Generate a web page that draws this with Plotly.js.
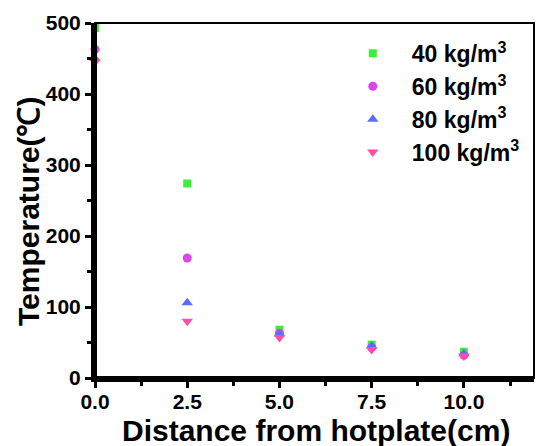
<!DOCTYPE html>
<html>
<head>
<meta charset="utf-8">
<script src="https://cdn.plot.ly/plotly-3.0.1.min.js"></script>
<style>html,body{margin:0;padding:0;background:#fff;}#chart{width:536px;height:446px;}</style>
</head>
<body>
<div id="chart"></div>
<script>
const distance = [0, 2.5, 5.0, 7.5, 10.0];
const temp40 = [493, 274, 68, 47, 37];
const temp60 = [463, 169, 63, 43, 32];
const temp80 = [450, 106, 62, 45, 34];
const temp100 = [445, 80, 57, 40, 31];
const seriesNames = ['40 kg/m<sup>3</sup>', '60 kg/m<sup>3</sup>', '80 kg/m<sup>3</sup>', '100 kg/m<sup>3</sup>'];
const xTicks = [0, 2.5, 5.0, 7.5, 10.0];
const xTickLabels = ['0.0', '2.5', '5.0', '7.5', '10.0'];
const yTicks = [0, 100, 200, 300, 400, 500];
const xTitle = 'Distance from hotplate(cm)';
const yTitle = 'Temperature(℃)';

const colors = ['#3ef03e', '#dd44f0', '#5a6dff', '#ff4f9e'];
const symbols = ['square', 'circle', 'triangle-up', 'triangle-down'];
const sizes = [8, 9, 10, 10];
const series = [temp40, temp60, temp80, temp100];

const traces = series.map((ys, i) => ({
  x: distance, y: ys, type: 'scatter', mode: 'markers', name: seriesNames[i],
  cliponaxis: false,
  marker: {color: colors[i], symbol: symbols[i], size: sizes[i], line: {width: 0}}
}));

const font = {family: 'Liberation Sans, Arial, sans-serif', color: '#000'};
const layout = {
  width: 536, height: 446,
  margin: {l: 95, r: 2, t: 23, b: 68},
  paper_bgcolor: '#fff', plot_bgcolor: '#fff',
  showlegend: true,
  legend: {x: 0.544, y: 0.975, xanchor: 'left', yanchor: 'top', bgcolor: 'rgba(0,0,0,0)',
    itemwidth: 68,
    font: Object.assign({}, font, {size: 23, weight: 'bold'}), tracegroupgap: 0},
  xaxis: {
    range: [0, 11.9], tickvals: xTicks, ticktext: xTickLabels,
    showgrid: false, zeroline: false, showline: true, linewidth: 4, linecolor: '#000',
    ticks: 'outside', ticklen: 6, tickwidth: 3, tickcolor: '#000',
    minor: {dtick: 1.25, ticks: 'outside', ticklen: 4, tickwidth: 3, tickcolor: '#000', showgrid: false},
    ticklabelstandoff: -4,
    tickfont: Object.assign({}, font, {size: 21, weight: 'bold'})
  },
  yaxis: {
    range: [0, 500], tickvals: yTicks,
    showgrid: false, zeroline: false, showline: true, linewidth: 4, linecolor: '#000',
    ticks: 'outside', ticklen: 6, tickwidth: 3, tickcolor: '#000',
    minor: {dtick: 50, ticks: 'outside', ticklen: 4, tickwidth: 3, tickcolor: '#000', showgrid: false},
    tickfont: Object.assign({}, font, {size: 21, weight: 'bold'})
  },
  annotations: [
    {text: xTitle, xref: 'paper', yref: 'paper', x: 0.503, y: -0.149, xanchor: 'center', yanchor: 'middle',
      showarrow: false, font: Object.assign({}, font, {size: 30, weight: 'bold'})},
    {text: yTitle, xref: 'paper', yref: 'paper', x: -0.15, y: 0.468, xanchor: 'center', yanchor: 'middle',
      textangle: -90, showarrow: false, font: Object.assign({}, font, {size: 30, weight: 'bold'})}
  ],
  shapes: [
    {type: 'rect', xref: 'paper', yref: 'paper', x0: 0, x1: 1, y0: 0, y1: 1,
      line: {color: '#000', width: 2}, layer: 'below'},
    {type: 'line', xref: 'paper', yref: 'paper', x0: 0, x1: 0, y0: 0, y1: 1,
      line: {color: '#000', width: 4}, layer: 'above'},
    {type: 'line', xref: 'paper', yref: 'paper', x0: 0, x1: 1, y0: 0, y1: 0,
      line: {color: '#000', width: 4}, layer: 'above'}
  ]
};

Plotly.newPlot('chart', traces, layout, {staticPlot: true});
</script>
</body>
</html>
